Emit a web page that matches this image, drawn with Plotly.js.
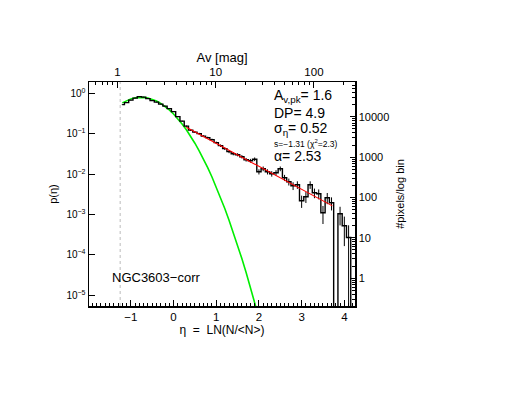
<!DOCTYPE html>
<html><head><meta charset="utf-8">
<script src="https://cdn.plot.ly/plotly-3.0.1.min.js"></script>
<style>html,body{margin:0;padding:0;background:#fff;}</style>
</head><body>
<div id="chart" style="width:529px;height:409px;"></div>
<script>
// bin centres in eta = ln(N/<N>)
const etaBins = [-1.2,-1.1,-1.0,-0.9,-0.8,-0.7,-0.6,-0.5,-0.4,-0.3,-0.2,-0.1,0.0,0.1,0.2,0.3,0.4,0.5,0.6,0.7,0.8,0.9,1.0,1.1,1.2,1.3,1.4,1.5,1.6,1.7,1.8,1.9,2.0,2.1,2.2,2.3,2.4,2.5,2.6,2.7,2.8,2.9,3.0,3.1,3.2,3.3,3.4,3.5,3.6,3.7,3.8,3.9,4.0,4.1,4.2];
// p(eta) (0 = empty bin)
const pHist = [0.533,0.598,0.690,0.773,0.843,0.819,0.751,0.670,0.615,0.549,0.490,0.424,0.3575,0.2688,0.2077,0.1561,0.1243,0.1109,0.1017,0.0882,0.0809,0.0722,0.0608,0.0513,0.0432,0.0364,0.0324,0.0306,0.02733,0.02303,0.02175,0.0237,0.0116,0.01377,0.0116,0.01035,0.01096,0.01377,0.00823,0.00655,0.00521,0.00552,0.00221,0.00278,0.00552,0.00349,0.00330,0.001114,0.002627,0.001974,0,0.001053,0.00053,0.000272,0];
// relative (Poisson) error of each bin
const relErr = [0.022,0.020,0.019,0.018,0.017,0.018,0.018,0.019,0.020,0.021,0.023,0.024,0.026,0.031,0.035,0.040,0.045,0.048,0.050,0.053,0.056,0.059,0.064,0.070,0.076,0.083,0.088,0.090,0.096,0.104,0.107,0.103,0.147,0.135,0.147,0.155,0.151,0.135,0.174,0.195,0.219,0.213,0.336,0.300,0.213,0.268,0.275,0.474,0.308,0.356,0,0.487,0.687,1.0,0];
// lognormal fit (green)
const lnEta = [-1.2,-1.1,-1.0,-0.9,-0.8,-0.7,-0.6,-0.5,-0.4,-0.3,-0.2,-0.1,0.0,0.1,0.2,0.3,0.4,0.5,0.6,0.7,0.8,0.9,1.0,1.1,1.2,1.3,1.4,1.5,1.6,1.7,1.8,1.9,2.0];
const lnP = [0.590,0.671,0.740,0.787,0.811,0.808,0.780,0.727,0.656,0.573,0.484,0.396,0.313,0.239,0.177,0.127,0.0879,0.0589,0.0382,0.0240,0.01456,0.00855,0.00485,0.00267,0.00142,7.30e-4,3.63e-4,1.75e-4,8.15e-5,3.67e-5,1.60e-5,6.76e-6,2.76e-6];
// power-law tail fit (red)
const plEta = [0.3, 3.72];
const plP = [0.1459, 0.00165];
// completeness limit and mean extinction
const etaLimit = -1.25;
const avMean = 3.73;
const xRange = [-1.98, 4.25];
const yLogRange = [-5.265, 0.288];
const rightLogOffset = 4.575;

const FONT = 'Liberation Sans, Arial, sans-serif';
const floorP = pHist.map(v => v > 0 ? v : 1e-12);
const errs = pHist.map((v, i) => v * relErr[i]);
const errsMinus = pHist.map((v, i) => relErr[i] >= 1 ? v * 0.999999 : v * relErr[i]);

function minorLog(lo, hi) {
  const out = [];
  for (let e = Math.floor(lo) - 1; e <= Math.ceil(hi); e++) {
    for (let m = 2; m <= 9; m++) {
      const v = m * Math.pow(10, e);
      const lv = Math.log10(v);
      if (lv > lo && lv < hi) out.push(v);
    }
  }
  return out;
}

const topRange = xRange.map(e => Math.log10(avMean) + e / Math.LN10);
const rightRange = yLogRange.map(v => v + rightLogOffset);

const traces = [
  {x: lnEta, y: lnP, mode: 'lines', line: {color: '#00ee00', width: 1.6}, hoverinfo: 'skip', showlegend: false},
  {x: etaBins, y: floorP, mode: 'lines', line: {color: '#000', width: 1.4, shape: 'hvh'},
   error_y: {type: 'data', symmetric: false, array: errs, arrayminus: errsMinus, color: '#000', thickness: 1, width: 0},
   showlegend: false},
  {x: plEta, y: plP, mode: 'lines', line: {color: '#ff0000', width: 1.1}, showlegend: false},
  {x: [], y: [], xaxis: 'x2', yaxis: 'y2', showlegend: false}
];

const axCommon = {showgrid: false, zeroline: false, showline: true, linecolor: '#000', linewidth: 1.5,
  ticks: 'inside', tickcolor: '#000', tickwidth: 1, tickfont: {family: FONT, size: 11.5, color: '#000'}};

const layout = {
  width: 529, height: 409,
  margin: {l: 89, r: 174, t: 82, b: 103},
  paper_bgcolor: '#fff', plot_bgcolor: '#fff',
  font: {family: FONT, color: '#000', size: 12},
  showlegend: false,
  xaxis: Object.assign({}, axCommon, {
    range: xRange, tickvals: [-1, 0, 1, 2, 3, 4], ticktext: ['\u22121', '0', '1', '2', '3', '4'], ticklen: 6,
    minor: {dtick: 0.1, tick0: 0, ticks: 'inside', ticklen: 3, tickcolor: '#000', showgrid: false},
    title: {text: '\u03B7  =  LN(N/<N>)', font: {family: FONT, size: 12}, standoff: 0}
  }),
  xaxis2: Object.assign({}, axCommon, {
    type: 'log', overlaying: 'x', side: 'top', anchor: 'y', range: topRange,
    tickvals: [1, 10, 100], ticktext: ['1', '10', '100'], ticklen: 6,
    minor: {tickvals: minorLog(topRange[0], topRange[1]), ticks: 'inside', ticklen: 3, tickcolor: '#000', showgrid: false},
    title: {text: 'Av [mag]', font: {family: FONT, size: 13}, standoff: 0}
  }),
  yaxis: Object.assign({}, axCommon, {
    type: 'log', range: yLogRange,
    tickvals: [1e-5, 1e-4, 1e-3, 1e-2, 1e-1, 1],
    ticktext: ['10<sup>\u22125</sup>', '10<sup>\u22124</sup>', '10<sup>\u22123</sup>', '10<sup>\u22122</sup>', '10<sup>\u22121</sup>', '10<sup>0</sup>'],
    ticklen: 6, tickfont: {family: FONT, size: 10, color: '#000'},
    title: {text: 'p(\u03B7)', font: {family: FONT, size: 11}, standoff: 6}
  }),
  yaxis2: Object.assign({}, axCommon, {
    type: 'log', overlaying: 'y', side: 'right', anchor: 'x', range: rightRange,
    tickvals: [1, 10, 100, 1000, 10000], ticktext: ['1', '10', '100', '1000', '10000'], ticklen: 5,
    tickfont: {family: FONT, size: 11, color: '#000'},
    minor: {tickvals: minorLog(rightRange[0], rightRange[1]), ticks: 'inside', ticklen: 3, tickcolor: '#000', showgrid: false},
    title: {text: '#pixels/log bin', font: {family: FONT, size: 11}, standoff: 8}
  }),
  shapes: [
    {type: 'line', xref: 'x', yref: 'paper', x0: etaLimit, x1: etaLimit, y0: 0, y1: 1,
     line: {color: '#bbbbbb', width: 1, dash: 'dot'}, layer: 'below'}
  ],
  annotations: [
    {xref: 'paper', yref: 'paper', x: 0.688, y: 0.936, xanchor: 'left', yanchor: 'middle', showarrow: false,
     text: 'A<sub>v,pk</sub>= 1.6', font: {family: FONT, size: 14}},
    {xref: 'paper', yref: 'paper', x: 0.688, y: 0.860, xanchor: 'left', yanchor: 'middle', showarrow: false,
     text: 'DP= 4.9', font: {family: FONT, size: 14}},
    {xref: 'paper', yref: 'paper', x: 0.688, y: 0.789, xanchor: 'left', yanchor: 'middle', showarrow: false,
     text: '\u03C3<sub>\u03B7</sub>= 0.52', font: {family: FONT, size: 14}},
    {xref: 'paper', yref: 'paper', x: 0.688, y: 0.726, xanchor: 'left', yanchor: 'middle', showarrow: false,
     text: 's=\u22121.31 (\u03C7<sup>2</sup>=2.3)', font: {family: FONT, size: 8.5}},
    {xref: 'paper', yref: 'paper', x: 0.688, y: 0.668, xanchor: 'left', yanchor: 'middle', showarrow: false,
     text: '\u03B1= 2.53', font: {family: FONT, size: 14}},
    {xref: 'paper', yref: 'paper', x: 0.079, y: 0.128, xanchor: 'left', yanchor: 'middle', showarrow: false,
     text: 'NGC3603\u2212corr', font: {family: FONT, size: 13}}
  ]
};

Plotly.newPlot('chart', traces, layout, {staticPlot: true, displayModeBar: false});
</script>
</body></html>
